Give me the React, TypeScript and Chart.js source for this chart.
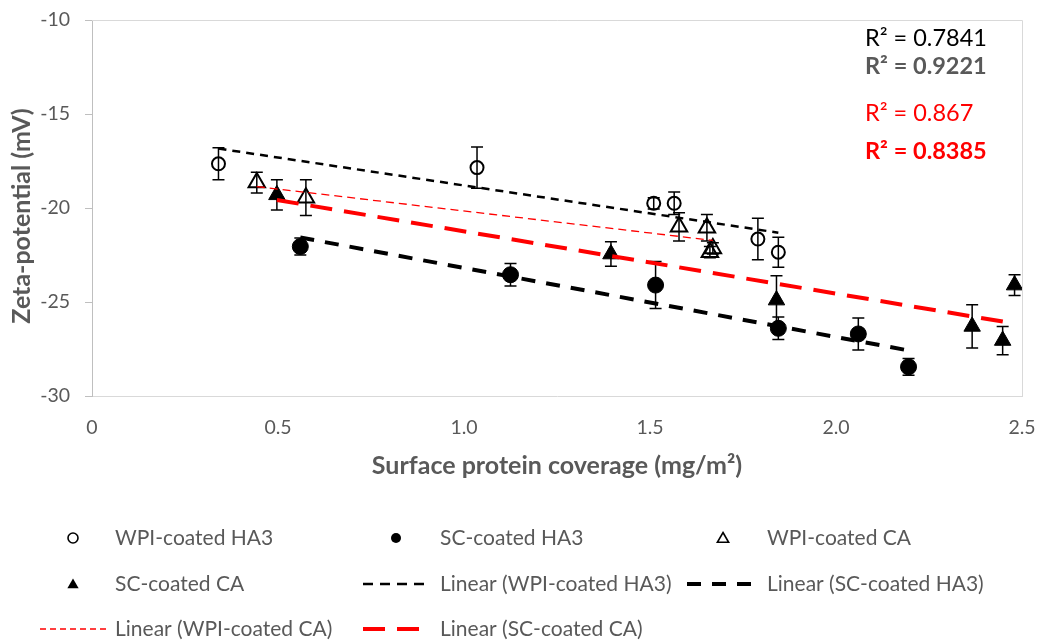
import React, { useEffect, useRef } from "react";
import { Chart, registerables } from "chart.js";

Chart.register(...registerables);

const FONT = "Lato, 'Noto Sans', sans-serif";
const GREY = "#595959";

// ---- data ----
const seriesLabels = ["WPI-coated HA3", "SC-coated HA3", "WPI-coated CA", "SC-coated CA"];
const trendLabels = [
  "Linear (WPI-coated HA3)",
  "Linear (SC-coated HA3)",
  "Linear (WPI-coated CA)",
  "Linear (SC-coated CA)",
];

const wpiHA3X = [0.34, 1.035, 1.51, 1.565, 1.79, 1.845];
const wpiHA3Y = [-17.65, -17.85, -19.75, -19.75, -21.65, -22.35];
const wpiHA3Err = [0.85, 1.1, 0.3, 0.6, 1.1, 0.8];

const scHA3X = [0.56, 1.125, 1.515, 1.845, 2.06, 2.195];
const scHA3Y = [-22.05, -23.55, -24.1, -26.4, -26.7, -28.45];
const scHA3Err = [0.45, 0.6, 1.25, 0.6, 0.85, 0.45];

const wpiCAX = [0.443, 0.575, 1.578, 1.653, 1.661, 1.669];
const wpiCAY = [-18.65, -19.45, -21.0, -21.05, -22.35, -22.15];
const wpiCAErr = [0.55, 0.95, 0.75, 0.7, 0.3, 0.3];

const scCAX = [0.497, 1.395, 1.84, 2.366, 2.448, 2.48];
const scCAY = [-19.3, -22.45, -24.9, -26.3, -27.05, -24.1];
const scCAErr = [0.8, 0.65, 1.3, 1.15, 0.75, 0.55];

const r2Texts = ["R² = 0.7841", "R² = 0.9221", "R² = 0.867", "R² = 0.8385"];

const xTitle = "Surface protein coverage (mg/m²)";
const yTitle = "Zeta-potential (mV)";

// ---- helpers ----
function toPoints(xs: number[], ys: number[]) {
  return xs.map((x, i) => ({ x, y: ys[i] }));
}

function linearFit(xs: number[], ys: number[]) {
  const n = xs.length;
  const mx = xs.reduce((a, b) => a + b, 0) / n;
  const my = ys.reduce((a, b) => a + b, 0) / n;
  let sxy = 0;
  let sxx = 0;
  for (let i = 0; i < n; i++) {
    sxy += (xs[i] - mx) * (ys[i] - my);
    sxx += (xs[i] - mx) * (xs[i] - mx);
  }
  const b = sxy / sxx;
  const a = my - b * mx;
  const x0 = Math.min(...xs);
  const x1 = Math.max(...xs);
  return [
    { x: x0, y: a + b * x0 },
    { x: x1, y: a + b * x1 },
  ];
}

function drawMarker(ctx: CanvasRenderingContext2D, kind: string, x: number, y: number, r: number, filled: boolean, lw: number) {
  ctx.beginPath();
  if (kind === "circle") {
    ctx.arc(x, y, r, 0, Math.PI * 2);
  } else {
    const h = r * 1.5;
    const w = r * Math.sqrt(3);
    ctx.moveTo(x, y - h / 2 - r * 0.1);
    ctx.lineTo(x + w / 2, y + h / 2 - r * 0.1);
    ctx.lineTo(x - w / 2, y + h / 2 - r * 0.1);
    ctx.closePath();
  }
  if (filled) {
    ctx.fillStyle = "#000";
    ctx.fill();
  } else {
    ctx.lineWidth = lw;
    ctx.strokeStyle = "#000";
    ctx.stroke();
  }
}

const errorBarPlugin = {
  id: "errorBars",
  beforeDatasetsDraw(chart: any) {
    const { ctx, scales } = chart;
    const xs = scales.x;
    const ys = scales.y;
    ctx.save();
    // plot area top / right border
    const ca = chart.chartArea;
    ctx.strokeStyle = "#d9d9d9";
    ctx.lineWidth = 1;
    ctx.beginPath();
    ctx.moveTo(ca.left, ca.top + 0.5);
    ctx.lineTo(ca.right + 0.5, ca.top + 0.5);
    ctx.lineTo(ca.right + 0.5, ca.bottom);
    ctx.stroke();

    ctx.strokeStyle = "#000";
    ctx.lineWidth = 1.5;
    chart.data.datasets.forEach((ds: any) => {
      if (!ds.errors) return;
      ds.data.forEach((p: any, i: number) => {
        const e = ds.errors[i];
        const px = xs.getPixelForValue(p.x);
        const top = ys.getPixelForValue(p.y + e);
        const bot = ys.getPixelForValue(p.y - e);
        ctx.beginPath();
        ctx.moveTo(px, top);
        ctx.lineTo(px, bot);
        ctx.moveTo(px - 6, top);
        ctx.lineTo(px + 6, top);
        ctx.moveTo(px - 6, bot);
        ctx.lineTo(px + 6, bot);
        ctx.stroke();
      });
    });
    ctx.restore();
  },
};

const textPlugin = {
  id: "extraText",
  afterDraw(chart: any) {
    const ctx: CanvasRenderingContext2D = chart.ctx;
    ctx.save();
    // y axis title
    ctx.save();
    ctx.translate(22, 216);
    ctx.rotate(-Math.PI / 2);
    ctx.font = `bold 25px ${FONT}`;
    ctx.fillStyle = GREY;
    ctx.textAlign = "center";
    ctx.textBaseline = "middle";
    ctx.fillText(yTitle, 0, 0);
    ctx.restore();

    // R² labels
    const r2Styles = [
      { color: "#000000", bold: false, y: 38 },
      { color: GREY, bold: true, y: 66 },
      { color: "#ff0000", bold: false, y: 113 },
      { color: "#ff0000", bold: true, y: 151 },
    ];
    ctx.textAlign = "left";
    ctx.textBaseline = "middle";
    r2Texts.forEach((t, i) => {
      const s = r2Styles[i];
      ctx.font = `${s.bold ? "bold " : ""}23.5px ${FONT}`;
      ctx.fillStyle = s.color;
      ctx.fillText(t, 865, s.y);
    });

    // legend
    const ds = chart.data.datasets;
    const cols = [
      { x1: 40, x2: 107, tx: 115 },
      { x1: 363, x2: 430, tx: 440 },
      { x1: 687, x2: 760, tx: 767 },
    ];
    const rows = [538, 584, 629];
    const order = [0, 1, 2, 3, 4, 5, 6, 7];
    order.forEach((k, idx) => {
      const d = ds[k];
      const c = cols[idx % 3];
      const y = rows[Math.floor(idx / 3)];
      if (d.showLine) {
        ctx.save();
        ctx.strokeStyle = d.borderColor;
        ctx.lineWidth = d.borderWidth;
        ctx.setLineDash(d.legendDash || d.borderDash);
        ctx.beginPath();
        ctx.moveTo(c.x1, y);
        ctx.lineTo(c.x2, y);
        ctx.stroke();
        ctx.restore();
      } else {
        const cx = (c.x1 + c.x2) / 2 - 0.5;
        drawMarker(ctx, d.pointStyle, cx, y, d.pointStyle === "circle" ? 5 : 6.5, d.filledMarker, 1.6);
      }
      ctx.font = `21px ${FONT}`;
      ctx.fillStyle = GREY;
      ctx.textAlign = "left";
      ctx.textBaseline = "middle";
      ctx.fillText(d.label, c.tx, y);
    });
    ctx.restore();
  },
};

export default function App() {
  const canvasRef = useRef<HTMLCanvasElement | null>(null);

  useEffect(() => {
    if (!canvasRef.current) return;
    const pointDs = (label: string, xs: number[], ys: number[], errs: number[], style: string, filled: boolean, radius: number) => ({
      label,
      data: toPoints(xs, ys),
      errors: errs,
      pointStyle: style,
      filledMarker: filled,
      pointRadius: radius,
      pointHoverRadius: radius,
      pointBorderWidth: filled ? 1 : 2,
      pointBackgroundColor: filled ? "#000" : "rgba(0,0,0,0)",
      pointBorderColor: "#000",
      backgroundColor: filled ? "#000" : "rgba(0,0,0,0)",
      borderColor: "#000",
      showLine: false,
      order: 2,
    });
    const lineDs = (label: string, xs: number[], ys: number[], color: string, width: number, dash: number[], legendDash: number[]) => ({
      label,
      data: linearFit(xs, ys),
      showLine: true,
      borderColor: color,
      backgroundColor: color,
      borderWidth: width,
      borderDash: dash,
      legendDash,
      pointRadius: 0,
      pointHoverRadius: 0,
      fill: false,
      order: 1,
    });

    const datasets: any[] = [
      pointDs(seriesLabels[0], wpiHA3X, wpiHA3Y, wpiHA3Err, "circle", false, 6.5),
      pointDs(seriesLabels[1], scHA3X, scHA3Y, scHA3Err, "circle", true, 8),
      pointDs(seriesLabels[2], wpiCAX, wpiCAY, wpiCAErr, "triangle", false, 9.5),
      pointDs(seriesLabels[3], scCAX, scCAY, scCAErr, "triangle", true, 9.5),
      lineDs(trendLabels[0], wpiHA3X, wpiHA3Y, "#000000", 2.5, [8, 6], [10, 7]),
      lineDs(trendLabels[1], scHA3X, scHA3Y, "#000000", 4, [14, 11], [14, 11]),
      lineDs(trendLabels[2], wpiCAX, wpiCAY, "#ff0000", 1.3, [8, 5], [6, 4]),
      lineDs(trendLabels[3], scCAX, scCAY, "#ff0000", 4, [22, 12], [22, 12]),
    ];

    const chart = new Chart(canvasRef.current, {
      type: "scatter",
      data: { datasets },
      options: {
        animation: false,
        responsive: false,
        devicePixelRatio: 1,
        layout: { padding: { left: 0, top: 20, right: 21, bottom: 159 } },
        plugins: {
          legend: { display: false },
          tooltip: { enabled: false },
        },
        scales: {
          x: {
            type: "linear",
            min: 0,
            max: 2.5,
            ticks: {
              stepSize: 0.5,
              color: GREY,
              font: { family: FONT, size: 19.5 },
              padding: 20,
            },
            grid: { display: false, drawTicks: false },
            border: { display: true, color: "#d9d9d9", width: 1 },
            title: {
              display: true,
              text: xTitle,
              color: GREY,
              font: { family: FONT, size: 25, weight: "bold" },
              padding: { top: 0, bottom: 0 },
            },
            afterFit: (scale: any) => {
              scale.height = 85;
              scale.paddingLeft = 0;
              scale.paddingRight = 0;
            },
          },
          y: {
            type: "linear",
            min: -30,
            max: -10,
            ticks: {
              stepSize: 5,
              color: GREY,
              font: { family: FONT, size: 19.5 },
              padding: 15,
            },
            grid: {
              display: true,
              drawOnChartArea: false,
              drawTicks: true,
              tickLength: 7,
              color: "#bfbfbf",
            },
            border: { display: true, color: "#bfbfbf", width: 1 },
            afterFit: (scale: any) => {
              scale.width = 92;
              scale.paddingTop = 0;
              scale.paddingBottom = 0;
            },
          },
        },
      } as any,
      plugins: [errorBarPlugin, textPlugin],
    });
    return () => chart.destroy();
  }, []);

  return (
    <div style={{ position: "absolute", left: 0, top: 0, width: 1043, height: 640, background: "#fff" }}>
      <canvas ref={canvasRef} width={1043} height={640} />
    </div>
  );
}
